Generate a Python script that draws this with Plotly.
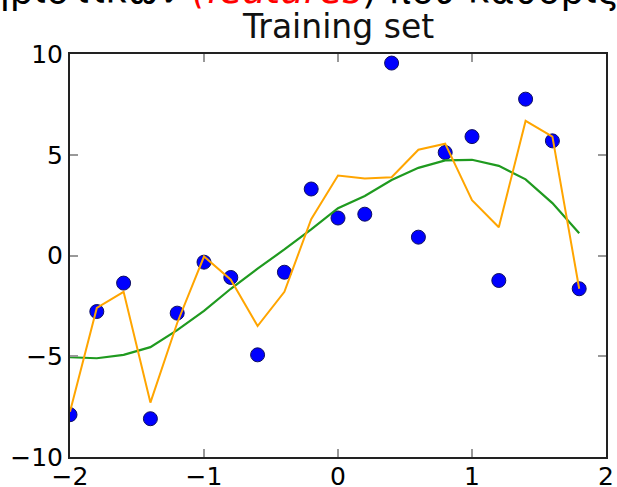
import plotly.graph_objects as go

x_vals = [-2.0, -1.8, -1.6, -1.4, -1.2, -1.0, -0.8, -0.6, -0.4, -0.2,
          0.0, 0.2, 0.4, 0.6, 0.8, 1.0, 1.2, 1.4, 1.6, 1.8]
y_points = [-7.9, -2.78, -1.37, -8.1, -2.86, -0.33, -1.09, -4.93, -0.83, 3.3,
            1.86, 2.05, 9.55, 0.91, 5.11, 5.9, -1.24, 7.76, 5.69, -1.65]
y_smooth = [-5.05, -5.1, -4.93, -4.55, -3.7, -2.75, -1.65, -0.65, 0.3, 1.3,
            2.35, 2.95, 3.75, 4.35, 4.72, 4.75, 4.45, 3.78, 2.6, 1.1]
y_overfit = [-7.75, -2.6, -1.8, -7.3, -3.35, -0.05, -1.2, -3.5, -1.8, 1.8,
             3.97, 3.82, 3.88, 5.25, 5.55, 2.75, 1.4, 6.68, 5.9, -1.65]
x_ticks = [-2, -1, 0, 1, 2]
y_ticks = [-10, -5, 0, 5, 10]

W, H = 617, 487
ML, MR, MT, MB = 70, 11, 54, 30
PW, PH = W - ML - MR, H - MT - MB

fig = go.Figure()
fig.add_trace(go.Scatter(x=x_vals, y=y_points, mode="markers",
                         marker=dict(color="#0000ff", size=14,
                                     line=dict(color="#101060", width=1)),
                         showlegend=False))
fig.add_trace(go.Scatter(x=x_vals, y=y_smooth, mode="lines",
                         line=dict(color="#1f9a1f", width=2.2),
                         showlegend=False))
fig.add_trace(go.Scatter(x=x_vals, y=y_overfit, mode="lines",
                         line=dict(color="#ffa500", width=2),
                         showlegend=False))

axis_common = dict(showgrid=False, zeroline=False, showline=True,
                   linecolor="#222222", linewidth=2, mirror="ticks",
                   ticks="inside", ticklen=8, tickwidth=2, tickcolor="#999999",
                   automargin=False,
                   tickfont=dict(family="DejaVu Sans", size=25, color="#000000"))

fig.update_xaxes(range=[-2, 2], tickvals=x_ticks, ticklabelstandoff=-4,
                 **axis_common)
fig.update_yaxes(range=[-10, 10], tickvals=y_ticks, **axis_common)

def px_x(p):
    return (p - ML) / PW

def px_y(p):
    return 1 - (p - MT) / PH

fig.add_annotation(text="Training set", xref="paper", yref="paper",
                   x=0.5, y=px_y(27), xanchor="center", yanchor="middle",
                   showarrow=False,
                   font=dict(family="DejaVu Sans", size=33, color="#111111"))

fig.add_annotation(
    text="ηριστικών <i><span style='color:#ff0000'>(features</span></i>) που καθορίζουν",
    xref="paper", yref="paper", x=px_x(-16), y=px_y(-10),
    xanchor="left", yanchor="middle", showarrow=False,
    font=dict(family="DejaVu Sans", size=37.5, color="#000000"))

fig.update_layout(width=W, height=H,
                  margin=dict(l=ML, r=MR, t=MT, b=MB),
                  paper_bgcolor="white", plot_bgcolor="white")

fig.write_html("out.html",
               config={"displayModeBar": False},
               post_script="document.body.style.margin='0';document.body.style.overflow='hidden';")
